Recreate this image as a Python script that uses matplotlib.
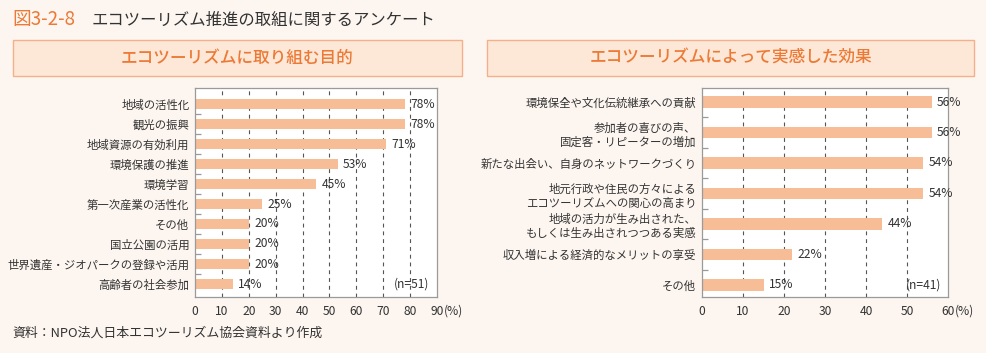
import matplotlib
matplotlib.use("Agg")
import matplotlib.pyplot as plt
from matplotlib.patches import Rectangle
from matplotlib.ticker import FixedLocator
import matplotlib.transforms as mtransforms

plt.rcParams['font.family'] = ['Noto Sans CJK JP', 'DejaVu Sans']

# ---------------- data ----------------
left_categories = ["地域の活性化", "観光の振興", "地域資源の有効利用", "環境保護の推進", "環境学習",
                   "第一次産業の活性化", "その他", "国立公園の活用",
                   "世界遺産・ジオパークの登録や活用", "高齢者の社会参加"]
left_values = [78, 78, 71, 53, 45, 25, 20, 20, 20, 14]
left_ticks = [0, 10, 20, 30, 40, 50, 60, 70, 80, 90]

right_categories = ["環境保全や文化伝統継承への貢献", "参加者の喜びの声、\n固定客・リピーターの増加",
                    "新たな出会い、自身のネットワークづくり",
                    "地元行政や住民の方々による\nエコツーリズムへの関心の高まり",
                    "地域の活力が生み出された、\nもしくは生み出されつつある実感",
                    "収入増による経済的なメリットの享受", "その他"]
right_values = [56, 56, 54, 54, 44, 22, 15]
right_ticks = [0, 10, 20, 30, 40, 50, 60]

title_num = "図3-2-8"
title_text = "エコツーリズム推進の取組に関するアンケート"
left_title = "エコツーリズムに取り組む目的"
right_title = "エコツーリズムによって実感した効果"
left_n = "(n=51)"
right_n = "(n=41)"
source = "資料：NPO法人日本エコツーリズム協会資料より作成"

# ---------------- style ----------------
W, H = 987, 353
BG = "#FDF6F0"
BAR = "#F7BD97"
HDR_FILL = "#FDE8D8"
HDR_EDGE = "#F3B08A"
ORANGE = "#EC7A36"
TXT = "#333333"
SPINE = "#9A9A9A"
GRID = "#555555"

fig = plt.figure(figsize=(W / 100, H / 100), dpi=100)
fig.patch.set_facecolor(BG)


def px_axes(x0, y0, x1, y1):
    return fig.add_axes([x0 / W, 1 - y1 / H, (x1 - x0) / W, (y1 - y0) / H])


# title
fig.text(12 / W, 1 - 20 / H, title_num, color=ORANGE, fontsize=13.5, va="center", ha="left")
fig.text(92 / W, 1 - 20 / H, title_text, color=TXT, fontsize=11.8, va="center", ha="left")

# header boxes
for (x0, x1, t) in [(13, 462, left_title), (487, 974, right_title)]:
    r = Rectangle((x0 / W, 1 - 76 / H), (x1 - x0) / W, 36 / H, transform=fig.transFigure,
                  facecolor=HDR_FILL, edgecolor=HDR_EDGE, linewidth=1.0)
    fig.patches.append(r)
    fig.text((x0 + x1) / 2 / W, 1 - 58 / H, t, color=ORANGE, fontsize=12,
             ha="center", va="center", fontweight="medium")

fig.text(12 / W, 1 - 333 / H, source, color=TXT, fontsize=9.3, ha="left", va="center")


def panel(ax, cats, vals, ticks, xmax, top_pad, bot_pad, bar_h, ntext, nx):
    n = len(cats)
    y = list(range(n))
    ax.set_facecolor("white")
    ax.barh(y, vals, height=bar_h, color=BAR, zorder=2)
    ax.set_xlim(0, xmax)
    ax.set_ylim(n - 1 + bot_pad, -top_pad)
    for xv in ticks[1:-1]:
        ax.axvline(xv, color=GRID, linewidth=0.8, linestyle=(0, (3.5, 3.5)), zorder=1)
    for s in ax.spines.values():
        s.set_color(SPINE)
        s.set_linewidth(0.9)
    ax.set_yticks(y)
    ax.set_yticklabels(cats, fontsize=8.2, color=TXT, linespacing=1.35)
    ax.yaxis.set_minor_locator(FixedLocator([i + 0.5 for i in range(n - 1)]))
    ax.tick_params(axis="y", which="major", length=0, pad=4)
    ax.tick_params(axis="y", which="minor", direction="in", length=4, color=SPINE, width=0.9)
    ax.set_xticks(ticks)
    ax.set_xticklabels([str(t) for t in ticks], fontsize=8.7, color=TXT)
    ax.tick_params(axis="x", length=0, pad=6)
    for yi, v in zip(y, vals):
        ax.annotate(f"{v}%", (v, yi), xytext=(4, 0), textcoords="offset points",
                    ha="left", va="center", fontsize=8.7, color=TXT, zorder=3)
    ax.text(nx, n - 1, ntext, ha="center", va="center", fontsize=8.7, color=TXT)
    # "(%)" suffix right after the last tick label
    tr = mtransforms.blended_transform_factory(ax.transData, ax.transAxes)
    ax.annotate("(%)", (xmax, 0), xycoords=tr, xytext=(5, -5.5), textcoords="offset points",
                ha="left", va="top", fontsize=8.7, color=TXT)


axL = px_axes(195, 88, 437, 297)
panel(axL, left_categories, left_values, left_ticks, 90, 0.8, 0.65, 0.47, left_n, 80.5)

axR = px_axes(702, 88, 948, 297)
panel(axR, right_categories, right_values, right_ticks, 60, 0.46, 0.4, 0.38, right_n, 54)

fig.savefig("out.png", dpi=100, facecolor=BG)
